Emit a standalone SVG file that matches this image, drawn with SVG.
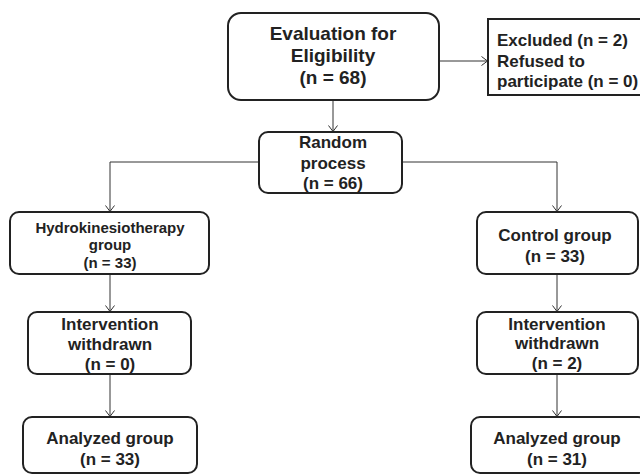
<svg xmlns="http://www.w3.org/2000/svg" width="640" height="475" viewBox="0 0 640 475">
<style>
.box{fill:#fff;stroke:#222;stroke-width:2}
.t{font-family:"Liberation Sans",Arial,sans-serif;font-weight:bold;fill:#222;text-anchor:middle;font-size:17px}
.tl{text-anchor:start}
.c{fill:none;stroke:#333;stroke-width:1}
</style>
<defs>
<marker id="ah" viewBox="-7 -6 8 12" refX="0" refY="0" markerWidth="8" markerHeight="12" markerUnits="userSpaceOnUse" orient="auto">
<path d="M-6,-4.5 L0,0 L-6,4.5" fill="none" stroke="#333" stroke-width="1"/>
</marker>
</defs>
<rect width="640" height="475" fill="#fff"/>
<g id="connectors">
<path class="c" d="M439,61 H487.5" marker-end="url(#ah)"/>
<path class="c" d="M333,100 V131.5" marker-end="url(#ah)"/>
<path class="c" d="M259,162 H110 V211.5" marker-end="url(#ah)"/>
<path class="c" d="M402,162 H557 V211.5" marker-end="url(#ah)"/>
<path class="c" d="M110,274 V311.5" marker-end="url(#ah)"/>
<path class="c" d="M557,274 V311.5" marker-end="url(#ah)"/>
<path class="c" d="M110,374 V416.5" marker-end="url(#ah)"/>
<path class="c" d="M557,374 V416.5" marker-end="url(#ah)"/>
</g>
<g id="evaluation">
<rect class="box" x="228" y="13" width="211" height="87" rx="13"/>
<text class="t" style="font-size:19px" x="333" y="40">Evaluation for</text>
<text class="t" style="font-size:19px" x="333" y="62">Eligibility</text>
<text class="t" style="font-size:19px" x="333" y="84">(n = 68)</text>
</g>
<g id="excluded">
<rect class="box" x="488" y="19" width="160" height="76"/>
<text class="t tl" x="497" y="46">Excluded (n = 2)</text>
<text class="t tl" x="497" y="67">Refused to</text>
<text class="t tl" x="497" y="87">participate (n = 0)</text>
</g>
<g id="random">
<rect class="box" x="259" y="132" width="143" height="61" rx="9"/>
<text class="t" x="333" y="148">Random</text>
<text class="t" x="333" y="169">process</text>
<text class="t" x="333" y="189">(n = 66)</text>
</g>
<g id="hydro">
<rect class="box" x="10" y="212" width="199" height="62" rx="9"/>
<text class="t" style="font-size:15px" x="110" y="233">Hydrokinesiotherapy</text>
<text class="t" style="font-size:15px" x="110" y="250">group</text>
<text class="t" style="font-size:15px" x="110" y="268">(n = 33)</text>
</g>
<g id="control">
<rect class="box" x="477" y="212" width="161" height="62" rx="9"/>
<text class="t" x="555" y="241">Control group</text>
<text class="t" x="555" y="262">(n = 33)</text>
</g>
<g id="withdrawn-left">
<rect class="box" x="28" y="312" width="163" height="62" rx="9"/>
<text class="t" x="110" y="330">Intervention</text>
<text class="t" x="110" y="350">withdrawn</text>
<text class="t" x="110" y="370">(n = 0)</text>
</g>
<g id="withdrawn-right">
<rect class="box" x="477" y="312" width="161" height="62" rx="9"/>
<text class="t" x="557" y="330">Intervention</text>
<text class="t" x="557" y="349">withdrawn</text>
<text class="t" x="557" y="369">(n = 2)</text>
</g>
<g id="analyzed-left">
<rect class="box" x="23" y="417" width="174" height="56" rx="9"/>
<text class="t" x="110" y="444">Analyzed group</text>
<text class="t" x="110" y="465">(n = 33)</text>
</g>
<g id="analyzed-right">
<rect class="box" x="471" y="417" width="176" height="56" rx="9"/>
<text class="t" x="557" y="444">Analyzed group</text>
<text class="t" x="557" y="465">(n = 31)</text>
</g>
</svg>
